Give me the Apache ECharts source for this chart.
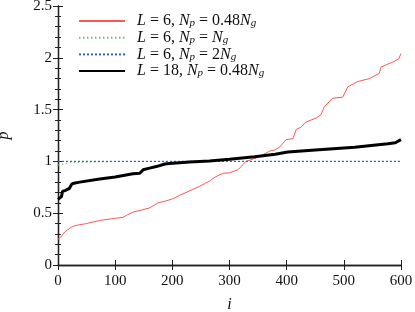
<!DOCTYPE html>
<html><head><meta charset="utf-8">
<script src="https://cdn.jsdelivr.net/npm/echarts@6/dist/echarts.min.js"></script>
<style>html,body{margin:0;padding:0;background:#fff}#c{width:415px;height:312px}</style>
</head><body><div id="c"></div>
<script>
// ---- data ----
const xTicks = [0, 100, 200, 300, 400, 500, 600];
const yTicks = [0, 0.5, 1, 1.5, 2, 2.5];
const redI = [0,5,9,12,17,25,30,50,73,99,114,120,131,145,160,175,190,201,212,224,236,248,258,265,275,289,300,315,322,329,340,350,364,370,379,388,399,411,417,425,434,452,460,466,481,498,507,524,545,562,565,586,596,600];
const redP = [0.25,0.27,0.30,0.32,0.34,0.37,0.38,0.40,0.43,0.45,0.46,0.48,0.51,0.53,0.55,0.60,0.62,0.64,0.67,0.70,0.73,0.76,0.79,0.81,0.85,0.885,0.89,0.92,0.96,1.0,1.02,1.04,1.08,1.10,1.11,1.14,1.21,1.22,1.31,1.33,1.38,1.42,1.45,1.53,1.61,1.62,1.72,1.77,1.80,1.85,1.91,1.96,1.99,2.04];
const greenI = [0,10,23,60,99,200,400,600];
const greenP = [0.965,0.975,0.99,0.993,0.997,1.0,1.0,1.0];
const blueI = [0,600];
const blueP = [1.0,1.0];
const blackI = [0,3,6,8,13,20,24,28,38,73,100,131,143,149,160,172,187,195,230,265,300,344,380,402,450,519,577,590,600];
const blackP = [0.634,0.65,0.66,0.71,0.72,0.74,0.78,0.79,0.80,0.83,0.85,0.88,0.885,0.92,0.935,0.95,0.975,0.98,0.995,1.005,1.02,1.045,1.07,1.09,1.11,1.136,1.17,1.18,1.21];
const names = ['r','g','b','k'];
const legendText = {
  r: '{i|L}{e|=}6, {i|N}{s|p}{e|=}0.48{i|N}{s|g}',
  g: '{i|L}{e|=}6, {i|N}{s|p}{e|=}{i|N}{s|g}',
  b: '{i|L}{e|=}6, {i|N}{s|p}{e|=}2{i|N}{s|g}',
  k: '{i|L}{e|=}18, {i|N}{s|p}{e|=}0.48{i|N}{s|g}'
};
// ---- chart ----
const zip = (a, b) => a.map((v, k) => [v, b[k]]);
const FONT = 'Liberation Serif';
const ch = echarts.init(document.getElementById('c'), null, {renderer: 'canvas'});
const axisLine = {show: true, lineStyle: {color: '#222', width: 1.3}};
const xCommon = {type: 'value', min: xTicks[0], max: xTicks[xTicks.length-1], interval: 100,
  axisLine: axisLine, splitLine: {show: false},
  axisTick: {show: true, inside: true, length: 5, lineStyle: {color: '#222'}}};
const yCommon = {type: 'value', min: yTicks[0], max: yTicks[yTicks.length-1], interval: 0.5,
  axisLine: axisLine, splitLine: {show: false},
  axisTick: {show: true, inside: true, length: 5, lineStyle: {color: '#222'}},
  minorTick: {show: true, splitNumber: 5, length: 3, lineStyle: {color: '#222'}},
  minorSplitLine: {show: false}};
const rich = {
  i: {fontFamily: FONT, fontStyle: 'italic', fontSize: 16, color: '#111', lineHeight: 16},
  e: {fontFamily: FONT, fontSize: 16, color: '#111', lineHeight: 16, padding: [0, 4, 0, 4]},
  s: {fontFamily: FONT, fontStyle: 'italic', fontSize: 11, color: '#111', lineHeight: 10, verticalAlign: 'bottom'}
};
ch.setOption({
  animation: false,
  grid: {left: 58, right: 14, top: 6, bottom: 47, outerBoundsMode: 'none', containLabel: false},
  legend: {
    orient: 'vertical', left: 78, top: 13, padding: 0, itemWidth: 46, itemHeight: 14, itemGap: 0.7,
    data: names, formatter: n => legendText[n],
    itemStyle: {color: 'rgba(0,0,0,0)', borderColor: 'rgba(0,0,0,0)', borderWidth: 0},
    textStyle: {fontFamily: FONT, fontSize: 16, color: '#111', padding: [0,0,0,7], rich: rich, lineHeight: 16}
  },
  xAxis: [
    Object.assign({}, xCommon, {position: 'bottom', name: 'i', nameLocation: 'middle', nameGap: 32,
      nameTextStyle: {fontFamily: FONT, fontStyle: 'italic', fontSize: 16, color: '#111'},
      axisLabel: {fontFamily: FONT, fontSize: 15, color: '#111', margin: 9}}),
    Object.assign({}, xCommon, {position: 'top', axisLabel: {show: false}})
  ],
  yAxis: [
    Object.assign({}, yCommon, {position: 'left', name: 'p', nameLocation: 'middle', nameGap: 46, nameRotate: 90,
      nameTextStyle: {fontFamily: FONT, fontStyle: 'italic', fontSize: 16, color: '#111'},
      axisLabel: {fontFamily: FONT, fontSize: 15, color: '#111', margin: 6}}),
    Object.assign({}, yCommon, {position: 'right', axisLabel: {show: false}})
  ],
  series: [
    {name: 'r', type: 'line', symbol: 'none', z: 2, data: zip(redI, redP), lineStyle: {color: '#ff5555', width: 1}, itemStyle: {color: '#ff5555'}},
    {name: 'g', type: 'line', symbol: 'none', z: 2, data: zip(greenI, greenP), lineStyle: {color: '#7fb27f', width: 1, type: [1.5,2.5]}, itemStyle: {color: '#7fb27f'}},
    {name: 'b', type: 'line', symbol: 'none', z: 3, data: zip(blueI, blueP), lineStyle: {color: '#2e64d8', width: 1.2, type: [2,2]}, itemStyle: {color: '#2e64d8'}},
    {name: 'k', type: 'line', symbol: 'none', z: 4, data: zip(blackI, blackP), lineStyle: {color: '#000', width: 3}, itemStyle: {color: '#000'}}
  ]
});
</script></body></html>
